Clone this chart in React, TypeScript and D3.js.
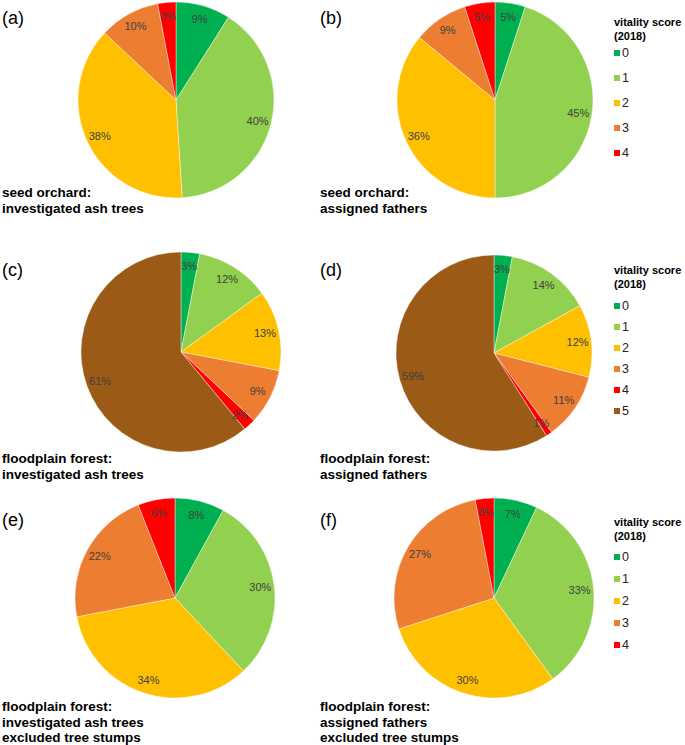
import React from 'react';
import * as d3 from 'd3';

// vitality scores and colours
const scores = ['0', '1', '2', '3', '4', '5'];
const colors = ['#00b050', '#92d050', '#ffc000', '#ed7d31', '#ff0000', '#9c5a17'];

// percentages per panel (score 0..n)
const seedAll = [9, 40, 38, 10, 3];
const seedFathers = [5, 45, 36, 9, 5];
const floodAll = [3, 12, 13, 9, 2, 61];
const floodFathers = [3, 14, 12, 11, 1, 59];
const floodAllNoStumps = [8, 30, 34, 22, 6];
const floodFathersNoStumps = [7, 33, 30, 27, 3];

const panels = [
  { tag: '(a)', values: seedAll, cx: 176, cy: 100, r: 98, tx: 2, ty: 24, sx: 2, sy: 197, lines: ['seed orchard:', 'investigated ash trees'] },
  { tag: '(b)', values: seedFathers, cx: 495, cy: 100, r: 98, tx: 320, ty: 24, sx: 320, sy: 197, lines: ['seed orchard:', 'assigned fathers'] },
  { tag: '(c)', values: floodAll, cx: 181, cy: 352, r: 100, tx: 2, ty: 276, sx: 2, sy: 463, lines: ['floodplain forest:', 'investigated ash trees'] },
  { tag: '(d)', values: floodFathers, cx: 494, cy: 353, r: 98, tx: 320, ty: 276, sx: 320, sy: 463, lines: ['floodplain forest:', 'assigned fathers'] },
  { tag: '(e)', values: floodAllNoStumps, cx: 175, cy: 598, r: 100, tx: 2, ty: 526, sx: 2, sy: 711, lines: ['floodplain forest:', 'investigated ash trees', 'excluded tree stumps'] },
  { tag: '(f)', values: floodFathersNoStumps, cx: 494, cy: 598, r: 100, tx: 320, ty: 526, sx: 320, sy: 711, lines: ['floodplain forest:', 'assigned fathers', 'excluded tree stumps'] },
];

const legends = [
  { x: 614, y: 26, n: 5, step: 25, first: 53 },
  { x: 614, y: 274, n: 6, step: 21, first: 306 },
  { x: 614, y: 526, n: 5, step: 22, first: 557 },
];

const font = 'Liberation Sans, Arial, sans-serif';

const Pie = ({ p }) => {
  const pie = d3.pie().sort(null).value((d) => d)(p.values);
  const arc = d3.arc().innerRadius(0).outerRadius(p.r);
  const labelArc = d3.arc().innerRadius(p.r * 0.86).outerRadius(p.r * 0.86);
  return (
    <g>
      <g transform={`translate(${p.cx},${p.cy})`}>
        {pie.map((d, i) => (
          <path key={i} d={arc(d)} fill={colors[i]} stroke="#fff" strokeWidth={0.4} />
        ))}
        {pie.map((d, i) => {
          const [lx, ly] = labelArc.centroid(d);
          return (
            <text key={'l' + i} x={lx} y={ly} dy="0.35em" textAnchor="middle" fontSize={11} fill="#404040" fontFamily={font}>
              {d.data}%
            </text>
          );
        })}
      </g>
      <text x={p.tx} y={p.ty} fontSize={18} fontFamily={font} fill="#000">{p.tag}</text>
      {p.lines.map((l, i) => (
        <text key={l} x={p.sx} y={p.sy + i * 15.5} fontSize={13.5} fontWeight="bold" fontFamily={font} fill="#000">{l}</text>
      ))}
    </g>
  );
};

const Legend = ({ l }) => (
  <g fontFamily={font}>
    <text x={l.x} y={l.y} fontSize={11} fontWeight="bold">vitality score</text>
    <text x={l.x} y={l.y + 14} fontSize={11} fontWeight="bold">(2018)</text>
    {scores.slice(0, l.n).map((s, i) => (
      <g key={s} transform={`translate(${l.x},${l.first + i * l.step})`}>
        <rect x={0} y={-3} width={6} height={6} fill={colors[i]} />
        <text x={8} y={0} dy="0.35em" fontSize={12.5} fill="#222">{s}</text>
      </g>
    ))}
  </g>
);

export default function App() {
  return (
    <svg width={685} height={745} style={{ position: 'absolute', left: 0, top: 0, background: '#fff' }}>
      {panels.map((p) => <Pie key={p.tag} p={p} />)}
      {legends.map((l, i) => <Legend key={i} l={l} />)}
    </svg>
  );
}
